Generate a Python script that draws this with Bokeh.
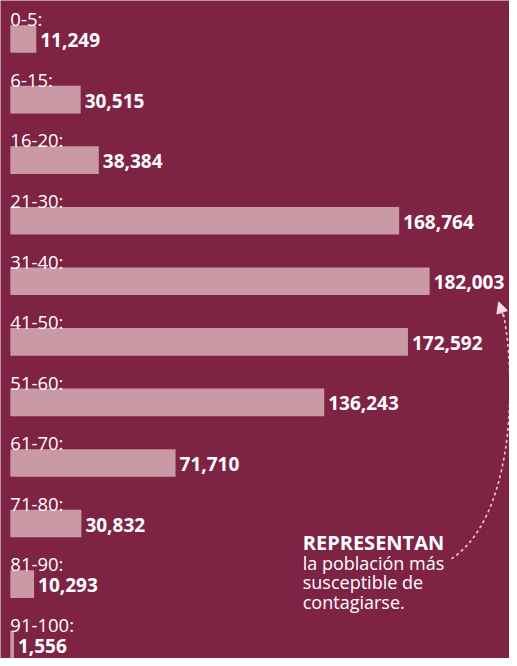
from bokeh.plotting import figure
from bokeh.models import ColumnDataSource, Range1d, Label, Arrow, NormalHead
from bokeh.core.properties import value
from bokeh.embed import file_html
from bokeh.resources import INLINE

# ---- data ----
age_groups = ["0-5:", "6-15:", "16-20:", "21-30:", "31-40:", "41-50:",
              "51-60:", "61-70:", "71-80:", "81-90:", "91-100:"]
cases = [11249, 30515, 38384, 168764, 182003, 172592,
         136243, 71710, 30832, 10293, 1556]
value_labels = ["11,249", "30,515", "38,384", "168,764", "182,003", "172,592",
                "136,243", "71,710", "30,832", "10,293", "1,556"]
note_title = "REPRESENTAN"
note_lines = ["la población más", "susceptible de", "contagiarse."]

# ---- layout helpers (reference pixel -> data) ----
BG = "#7f2345"
BAR = "#c99aa6"
W, H = 509, 658
REF_W, REF_H = 517, 666
K = 0.00234          # ref px per case
PITCH = 61.3         # ref px per row
ROW0 = 39.0          # ref px of first row centre
SY = H / REF_H


def x_at(px):
    return (px - 10) / K


def y_at(py):
    return (py - ROW0) / PITCH


FONT = "Open Sans"

p = figure(width=W, height=H, output_backend="svg", toolbar_location=None,
           x_range=Range1d(x_at(0), x_at(REF_W)),
           y_range=Range1d(y_at(REF_H), y_at(0)),
           min_border=0, background_fill_color=BG, border_fill_color=BG)
p.axis.visible = False
p.grid.visible = False
p.outline_line_color = None

rows = list(range(len(age_groups)))
src = ColumnDataSource(dict(y=rows, v=cases, lab=age_groups, vl=value_labels,
                            zero=[0] * len(rows)))

p.hbar(y="y", left=0, right="v", height=28 / PITCH, source=src,
       fill_color=BAR, line_color=None)

p.text(x="zero", y="y", text="lab", source=src, y_offset=-20.5 * SY,
       text_color="white", text_font=value(FONT), text_font_size="18.5px",
       text_baseline="alphabetic", text_align="left")

p.text(x="v", y="y", text="vl", source=src, x_offset=4, y_offset=1,
       text_color="white", text_font=value(FONT), text_font_size="19px",
       text_font_style="bold", text_baseline="middle", text_align="left")

# annotation
p.add_layout(Label(x=x_at(307), y=y_at(549), text=note_title,
                   text_color="white", text_font=FONT,
                   text_font_size="20px", text_font_style="bold",
                   text_baseline="alphabetic"))
for j, line in enumerate(note_lines):
    p.add_layout(Label(x=x_at(307), y=y_at(569 + 20 * j), text=line,
                       text_color="white", text_font=FONT,
                       text_font_size="18px", text_baseline="alphabetic"))

# dashed curved arrow
p.bezier(x0=[x_at(458)], y0=[y_at(565)], x1=[x_at(511)], y1=[y_at(318)],
         cx0=[x_at(520)], cy0=[y_at(525)], cx1=[x_at(525)], cy1=[y_at(390)],
         line_color="#efc7d3", line_width=1.6, line_dash="3 3")
p.add_layout(Arrow(end=NormalHead(size=11, fill_color="#f3dde4",
                                  line_color="#f3dde4"),
                   x_start=x_at(511), y_start=y_at(320),
                   x_end=x_at(506), y_end=y_at(305),
                   line_color="#efc7d3", line_width=1.5))

open("out.html", "w").write(file_html(p, INLINE))
